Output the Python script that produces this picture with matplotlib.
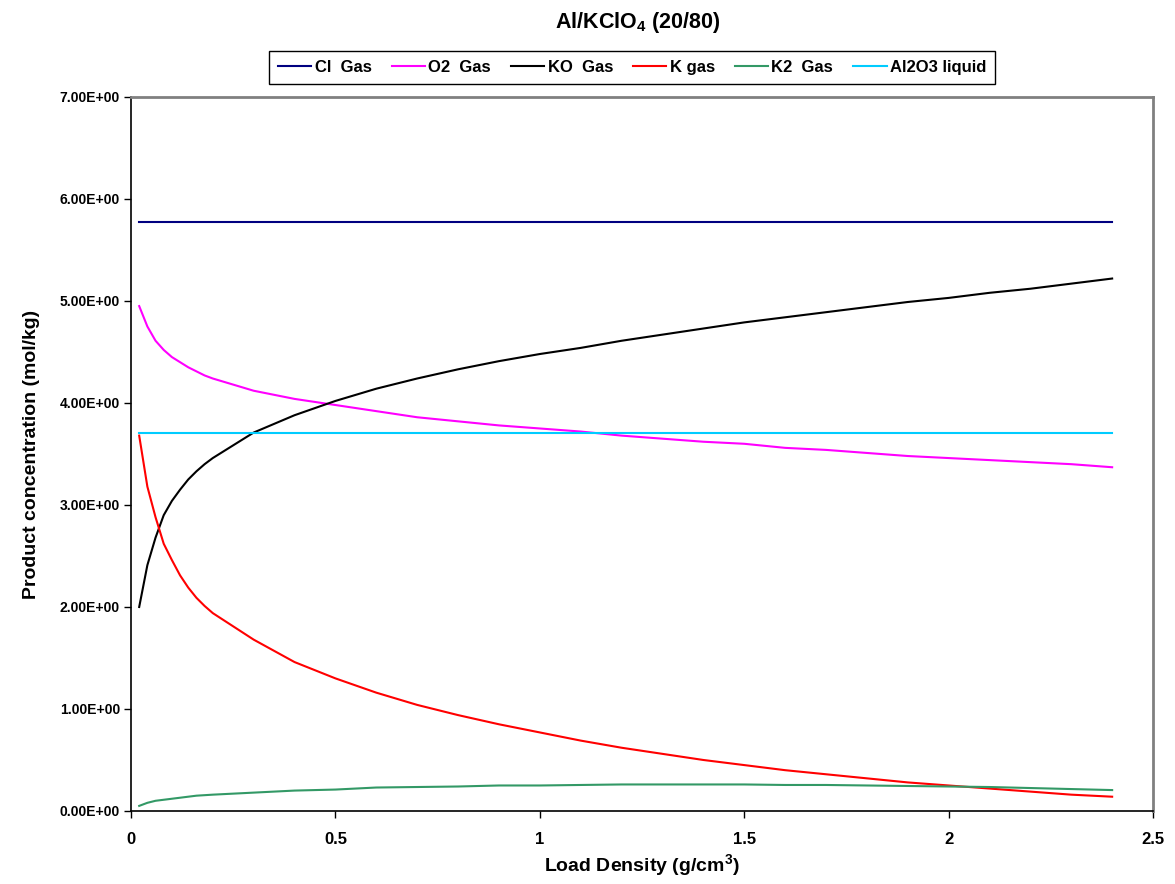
import matplotlib
matplotlib.use("Agg")
import matplotlib.pyplot as plt
from matplotlib.ticker import FuncFormatter, MultipleLocator

plt.rcParams['font.family'] = ['Liberation Sans', 'DejaVu Sans']
plt.rcParams['font.weight'] = 'bold'
plt.rcParams['mathtext.fontset'] = 'custom'
plt.rcParams['mathtext.rm'] = 'Liberation Sans:bold'
plt.rcParams['mathtext.bf'] = 'Liberation Sans:bold'
plt.rcParams['mathtext.default'] = 'bf'

# load density (g/cm3)
density = [0.02, 0.04, 0.06, 0.08, 0.1, 0.12, 0.14, 0.16, 0.18, 0.2, 0.3, 0.4,
           0.5, 0.6, 0.7, 0.8, 0.9, 1.0, 1.1, 1.2, 1.3, 1.4, 1.5, 1.6, 1.7,
           1.8, 1.9, 2.0, 2.1, 2.2, 2.3, 2.4]

# product concentrations (mol/kg)
cl_gas = [5.77] * len(density)
o2_gas = [4.95, 4.75, 4.61, 4.52, 4.45, 4.40, 4.35, 4.31, 4.27, 4.24, 4.12, 4.04,
          3.98, 3.92, 3.86, 3.82, 3.78, 3.75, 3.72, 3.68, 3.65, 3.62, 3.60, 3.56,
          3.54, 3.51, 3.48, 3.46, 3.44, 3.42, 3.40, 3.37]
ko_gas = [2.00, 2.41, 2.68, 2.90, 3.04, 3.15, 3.25, 3.33, 3.40, 3.46, 3.71, 3.88,
          4.02, 4.14, 4.24, 4.33, 4.41, 4.48, 4.54, 4.61, 4.67, 4.73, 4.79, 4.84,
          4.89, 4.94, 4.99, 5.03, 5.08, 5.12, 5.17, 5.22]
k_gas = [3.68, 3.18, 2.88, 2.62, 2.46, 2.31, 2.19, 2.09, 2.01, 1.94, 1.68, 1.46,
         1.30, 1.16, 1.04, 0.94, 0.85, 0.77, 0.69, 0.62, 0.56, 0.50, 0.45, 0.40,
         0.36, 0.32, 0.28, 0.25, 0.22, 0.19, 0.16, 0.14]
k2_gas = [0.05, 0.08, 0.10, 0.11, 0.12, 0.13, 0.14, 0.15, 0.155, 0.16, 0.18, 0.20,
          0.21, 0.23, 0.235, 0.24, 0.25, 0.25, 0.255, 0.26, 0.26, 0.26, 0.26,
          0.255, 0.255, 0.25, 0.245, 0.24, 0.235, 0.225, 0.215, 0.205]
al2o3_liquid = [3.71] * len(density)

series = [
    ("Cl  Gas", cl_gas, "#000080"),
    ("O2  Gas", o2_gas, "#FF00FF"),
    ("KO  Gas", ko_gas, "#000000"),
    ("K gas", k_gas, "#FF0000"),
    ("K2  Gas", k2_gas, "#339966"),
    ("Al2O3 liquid", al2o3_liquid, "#00CCFF"),
]

fig = plt.figure(figsize=(11.75, 8.84), dpi=100)
ax = fig.add_axes([0.1115, 0.0826, 0.8698, 0.8077])

for label, vals, color in series:
    ax.plot(density, vals, color=color, lw=1.5, label=label)

ax.set_xlim(0, 2.5)
ax.set_ylim(0, 7)
ax.xaxis.set_major_locator(MultipleLocator(0.5))
ax.yaxis.set_major_locator(MultipleLocator(1))
ax.xaxis.set_major_formatter(FuncFormatter(lambda v, p: f"{v:g}"))
ax.yaxis.set_major_formatter(FuncFormatter(lambda v, p: f"{v:.2E}"))
ax.tick_params(axis='x', direction='out', length=5, width=1, labelsize=12, pad=10)
ax.tick_params(axis='y', direction='out', length=5, width=1, labelsize=10, pad=3)
for lab in ax.get_xticklabels() + ax.get_yticklabels():
    lab.set_fontweight('bold')

for side in ['left', 'bottom']:
    ax.spines[side].set_color('black')
    ax.spines[side].set_linewidth(1.2)
for side in ['top', 'right']:
    ax.spines[side].set_color('#808080')
    ax.spines[side].set_linewidth(2)

ax.set_xlabel("Load Density (g/cm$^3$)", fontsize=14, fontweight='bold', labelpad=4)
ax.set_ylabel("Product concentration (mol/kg)", fontsize=14, fontweight='bold', labelpad=14)
fig.text(0.543, 0.974, "Al/KClO$_4$ (20/80)", ha='center', va='center',
         fontsize=15.5, fontweight='bold')

leg = fig.legend(loc='center', bbox_to_anchor=(0.538, 0.9236), ncol=6,
                 fancybox=False, edgecolor='black', framealpha=1,
                 prop={'size': 12, 'weight': 'bold'}, handlelength=2.0,
                 handletextpad=0.2, columnspacing=1.2, borderpad=0.55)
leg.get_frame().set_linewidth(1)

fig.savefig("out.png", dpi=100)
